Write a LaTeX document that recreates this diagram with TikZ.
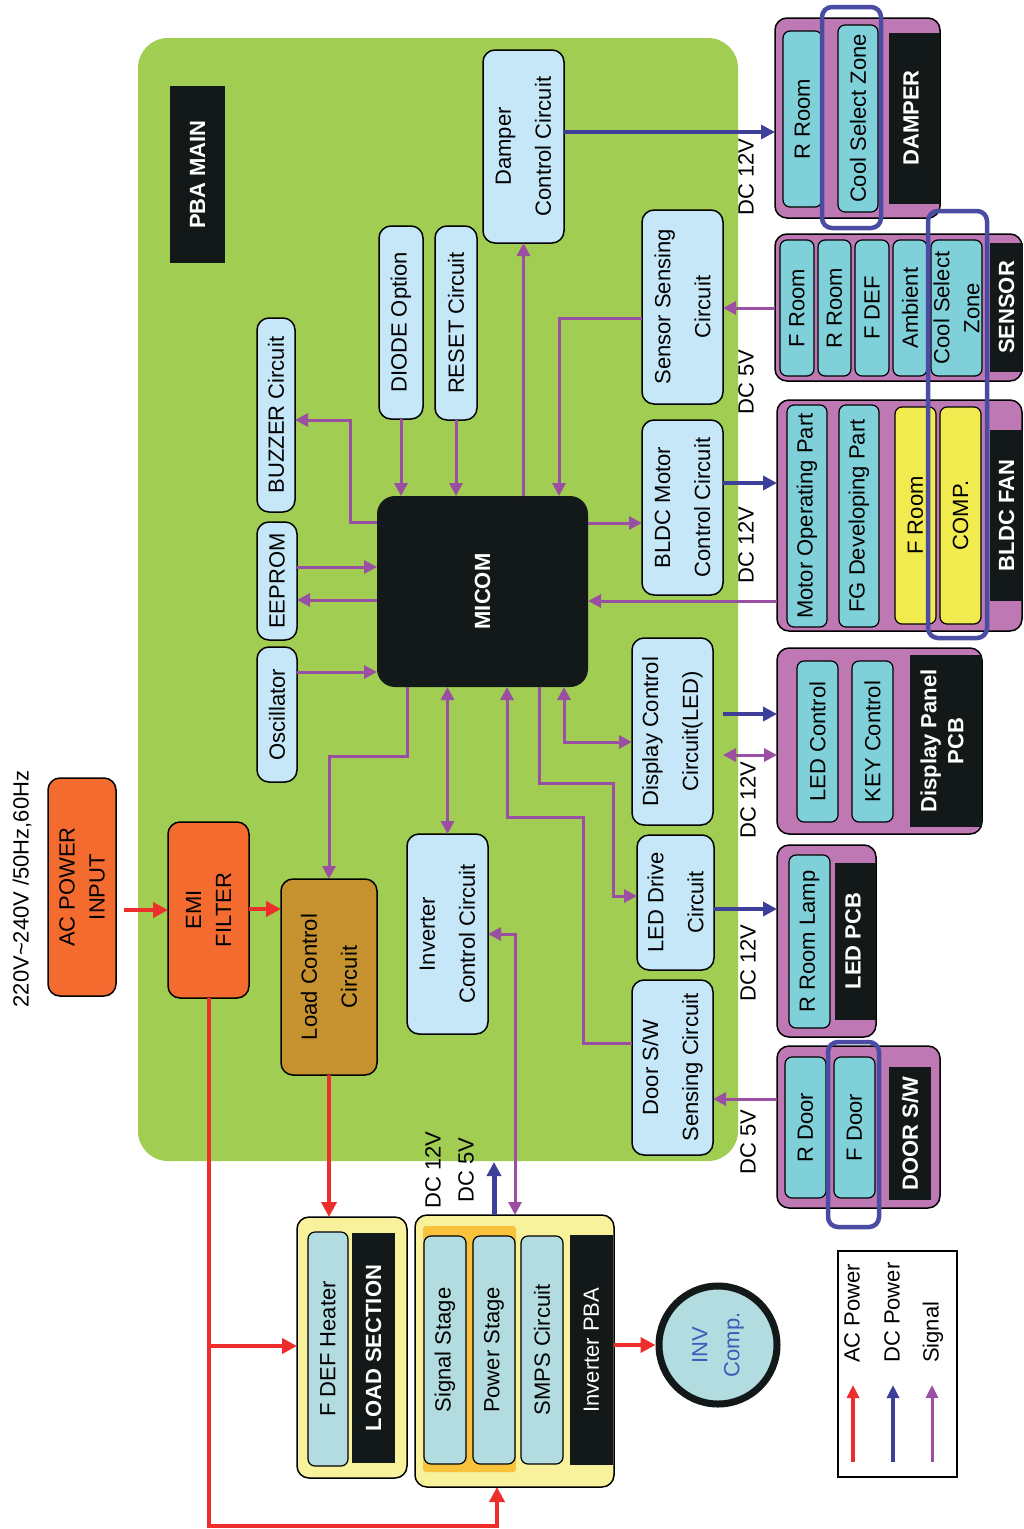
\documentclass[tikz,border=0pt]{standalone}
\usepackage{fontspec}
\setmainfont{Liberation Sans}
\usetikzlibrary{arrows.meta,calc}
\definecolor{board}{HTML}{A0CD52}
\definecolor{lblue}{HTML}{C5E7F8}
\definecolor{dark}{HTML}{131819}
\definecolor{orng}{HTML}{F46B30}
\definecolor{brwn}{HTML}{C5922F}
\definecolor{modp}{HTML}{BE78B4}
\definecolor{cteal}{HTML}{80D0DA}
\definecolor{fyel}{HTML}{F2EB4F}
\definecolor{lyel}{HTML}{F7F29B}
\definecolor{invb}{HTML}{B2DCDF}
\definecolor{band}{HTML}{F8C23A}
\definecolor{hil}{HTML}{4A4BA3}
\definecolor{sigc}{HTML}{9B4FA3}
\definecolor{dcc}{HTML}{3E3F98}
\definecolor{acc}{HTML}{EE2D2D}
\definecolor{invtxt}{HTML}{3A5DB8}
\newcommand\mybox[6]{\node[#6, minimum width={(#4-#2)*1pt}, minimum height={(#5-#3)*1pt}] (#1) at ({(#2+#4)/2},{(#3+#5)/2}) {};}
\newcommand\mytxt[3][]{\node[tx,#1] (#2-t) at (#2.center) {#3};}
\tikzset{
  tx/.style={rotate=90, align=center, inner sep=0pt, font=\fontsize{22}{40}\selectfont},
  wtx/.style={text=white, font=\fontsize{22}{27}\selectfont\bfseries},
  lb/.style={draw=black, line width=1.5pt, fill=lblue, rounded corners=12pt, inner sep=0pt, outer sep=0pt},
  ob/.style={lb, fill=orng},
  mod/.style={draw=black, line width=1.5pt, fill=modp, rounded corners=12pt, inner sep=0pt, outer sep=0pt},
  inb/.style={draw=black, line width=1.2pt, fill=cteal, rounded corners=7pt, inner sep=0pt, outer sep=0pt},
  yb/.style={inb, fill=fyel},
  ivb/.style={inb, fill=invb},
  dk/.style={fill=dark, inner sep=0pt, outer sep=0pt},
  hl/.style={draw=hil, line width=4.5pt, rounded corners=10pt, inner sep=0pt},
  sig/.style={draw=sigc, line width=3pt, -{Triangle[length=13pt,width=13pt]}},
  sigd/.style={draw=sigc, line width=3pt, {Triangle[length=13pt,width=13pt]}-{Triangle[length=13pt,width=13pt]}},
  dcl/.style={draw=dcc, line width=3.5pt, -{Triangle[length=14pt,width=14pt]}},
  acl/.style={draw=acc, line width=4pt, -{Triangle[length=15pt,width=15pt]}},
}
\begin{document}
\begin{tikzpicture}[x=1pt,y=-1pt]
\useasboundingbox (0,0) rectangle (1023,1529);
\fill[white] (0,0) rectangle (1023,1529);
% board
\mybox{board}{138}{38}{738}{1161}{fill=board, rounded corners=30pt, inner sep=0pt}
\mybox{pbalbl}{170}{86}{225}{263}{dk}
\mytxt[wtx]{pbalbl}{PBA MAIN}
% inside boxes
\mybox{damperc}{483}{50}{564}{243}{lb}\mytxt{damperc}{Damper\\Control Circuit}
\mybox{diode}{379}{226}{423}{419}{lb}\mytxt{diode}{DIODE Option}
\mybox{reset}{435}{226}{477}{420}{lb}\mytxt{reset}{RESET Circuit}
\mybox{buzzer}{257}{318}{295}{512}{lb}\mytxt{buzzer}{BUZZER Circuit}
\mybox{eeprom}{257}{522}{297}{640}{lb}\mytxt{eeprom}{EEPROM}
\mybox{osc}{257}{647}{297}{782}{lb}\mytxt{osc}{Oscillator}
\mybox{micom}{377}{496}{588}{687}{dk, rounded corners=18pt}\mytxt[wtx]{micom}{MICOM}
\mybox{sensc}{642}{210}{723}{404}{lb}\mytxt{sensc}{Sensor Sensing\\Circuit}
\mybox{bldcc}{642}{420}{723}{595}{lb}\mytxt{bldcc}{BLDC Motor\\Control Circuit}
\mybox{dispc}{632}{638}{713}{825}{lb}\mytxt{dispc}{Display Control\\Circuit(LED)}
\mybox{ledc}{637}{835}{714}{970}{lb}\mytxt{ledc}{LED Drive\\Circuit}
\mybox{doorc}{632}{980}{713}{1155}{lb}\mytxt{doorc}{Door S/W\\Sensing Circuit}
\mybox{loadc}{281}{879}{377}{1075}{lb, fill=brwn}\mytxt{loadc}{Load Control\\Circuit}
\mybox{invc}{407}{834}{488}{1034}{lb}\mytxt{invc}{Inverter\\Control Circuit}
% power input
\mybox{acin}{48}{778}{116}{996}{ob}\mytxt[font=\fontsize{22}{30}\selectfont]{acin}{AC POWER\\INPUT}
\mybox{emi}{168}{822}{249}{998}{ob}\mytxt[font=\fontsize{22}{30}\selectfont]{emi}{EMI\\FILTER}
\node[tx, font=\fontsize{22}{26}\selectfont] (volt) at (22,889) {220V\textasciitilde 240V /50Hz,60Hz};
% DAMPER
\mybox{damper}{775}{18}{940}{218}{mod}
\mybox{droom}{783}{31}{822}{207}{inb}\mytxt{droom}{R Room}
\mybox{dcool}{838}{25}{878}{212}{inb}\mytxt{dcool}{Cool Select Zone}
\mybox{dlbl}{889}{33}{940}{204}{dk}\node[tx,wtx] (dlbl-t) at (911,118) {DAMPER};
% SENSOR
\mybox{sensor}{775}{234}{1022}{381}{mod}
\mybox{s1}{780}{240}{814}{376}{inb}\mytxt{s1}{F Room}
\mybox{s2}{818}{240}{851}{376}{inb}\mytxt{s2}{R Room}
\mybox{s3}{855}{240}{889}{376}{inb}\mytxt{s3}{F DEF}
\mybox{s4}{893}{240}{927}{376}{inb}\mytxt{s4}{Ambient}
\mybox{s5}{931}{240}{982}{376}{inb}\mytxt[font=\fontsize{22}{30}\selectfont]{s5}{Cool Select\\Zone}
\mybox{slbl}{990}{243}{1023}{372}{dk}\mytxt[wtx]{slbl}{SENSOR}
% BLDC FAN
\mybox{fan}{777}{400}{1022}{631}{mod}
\mybox{f1}{787}{405}{827}{627}{inb}\mytxt{f1}{Motor Operating Part}
\mybox{f2}{839}{405}{879}{627}{inb}\mytxt{f2}{FG Developing Part}
\mybox{f3}{895}{407}{936}{624}{yb}\mytxt{f3}{F Room}
\mybox{f4}{940}{407}{981}{624}{yb}\mytxt{f4}{COMP.}
\mybox{flbl}{990}{430}{1023}{601}{dk}\mytxt[wtx]{flbl}{BLDC FAN}
% Display panel
\mybox{disp}{777}{648}{982}{834}{mod}
\mybox{dp1}{797}{661}{838}{822}{inb}\mytxt{dp1}{LED Control}
\mybox{dp2}{852}{661}{893}{822}{inb}\mytxt{dp2}{KEY Control}
\mybox{dplbl}{910}{655}{982}{827}{dk}\node[tx,wtx] (dplbl-t) at (942,741) {Display Panel\\PCB};
% LED PCB
\mybox{ledpcb}{777}{845}{876}{1037}{mod}
\mybox{lp1}{789}{855}{830}{1028}{inb}\mytxt{lp1}{R Room Lamp}
\mybox{lplbl}{835}{863}{876}{1020}{dk}\node[tx,wtx] (lplbl-t) at (853,941) {LED PCB};
% DOOR S/W
\mybox{doorsw}{777}{1046}{940}{1208}{mod}
\mybox{rdoor}{785}{1057}{826}{1198}{inb}\mytxt{rdoor}{R Door}
\mybox{fdoor}{834}{1057}{875}{1198}{inb}\mytxt{fdoor}{F Door}
\mybox{dslbl}{889}{1067}{931}{1200}{dk}\mytxt[wtx]{dslbl}{DOOR S/W}
% highlights
\mybox{hl1}{822}{7}{881}{228}{hl}
\mybox{hl2}{928}{211}{987}{638}{hl}
\mybox{hl3}{828}{1042}{879}{1227}{hl}
% LOAD SECTION
\mybox{loadsec}{297}{1217}{407}{1478}{mod, fill=lyel}
\mybox{heater}{308}{1232}{348}{1466}{ivb}\mytxt{heater}{F DEF Heater}
\mybox{lslbl}{352}{1233}{395}{1463}{dk}\mytxt[wtx]{lslbl}{LOAD SECTION}
% Inverter PBA
\mybox{invpba}{415}{1215}{614}{1487}{mod, fill=lyel}
\mybox{bandr}{423}{1226}{516}{1472}{fill=band, rounded corners=3pt}
\mybox{sigst}{424}{1236}{466}{1464}{ivb}\mytxt{sigst}{Signal Stage}
\mybox{powst}{473}{1236}{515}{1464}{ivb}\mytxt{powst}{Power Stage}
\mybox{smps}{521}{1236}{563}{1464}{ivb}\mytxt{smps}{SMPS Circuit}
\mybox{iplbl}{570}{1235}{613}{1465}{dk}\mytxt[text=white, font=\fontsize{22}{27}\selectfont]{iplbl}{Inverter PBA}
% INV comp
\node[circle, draw=dark, line width=7pt, fill=invb, minimum size=118pt, inner sep=0pt] (invcomp) at (718,1345) {};
\node[tx, text=invtxt, font=\fontsize{22}{32}\selectfont] (invcomp-t) at (invcomp.center) {INV\\Comp.};
% DC labels
\node[tx] (dc1) at (746,177) {DC 12V};
\node[tx] (dc2) at (746,382) {DC 5V};
\node[tx] (dc3) at (746,545) {DC 12V};
\node[tx] (dc4) at (748,800) {DC 12V};
\node[tx] (dc5) at (748,963) {DC 12V};
\node[tx] (dc6) at (748,1142) {DC 5V};
\node[tx] (dc7) at (433,1170) {DC 12V};
\node[tx] (dc8) at (466,1170) {DC 5V};
% signal connectors
\draw[sig] (micom.west |- 0,522) -- (350,522) |- (buzzer.east |- 0,420);
\draw[sig] (diode.south) -- (diode.south |- micom.north);
\draw[sig] (reset.south) -- (reset.south |- micom.north);
\draw[sig] (micom.north -| damperc.south) -- (damperc.south);
\draw[sig] (sensc.west |- 0,318) -| (micom.north -| 559,0);
\draw[sig] (micom.east |- 0,523) -- (bldcc.west |- 0,523);
\draw[sig] (fan.west |- 0,601) -- (micom.east |- 0,601);
\draw[sig] (eeprom.east |- 0,567) -- (micom.west |- 0,567);
\draw[sig] (micom.west |- 0,600) -- (eeprom.east |- 0,600);
\draw[sig] (osc.east |- 0,672) -- (micom.west |- 0,672);
\draw[sig] (micom.south -| 407,0) -- (407,756) -| (loadc.north);
\draw[sigd] (micom.south -| invc.north) -- (invc.north);
\draw[sig] (doorc.west |- 0,1043) -| (583,817) -| (micom.south -| 507,0);
\draw[sig] (micom.south -| 539,0) |- (613,783) |- (ledc.west |- 0,896);
\draw[sigd] (micom.south -| 564,0) |- (dispc.west |- 0,742);
\draw[sigd] (invpba.north -| 515,0) |- (invc.east |- 0,934);
\draw[sig] (sensor.west |- 0,308) -- (sensc.east |- 0,308);
\draw[sigd] ([xshift=10pt]dispc.east |- 0,755) -- (disp.west |- 0,755);
\draw[sig] (doorsw.west |- 0,1099) -- (doorc.east |- 0,1099);
% DC connectors
\draw[dcl] (damperc.east |- 0,132) -- (damper.west |- 0,132);
\draw[dcl, line width=4.5pt] (bldcc.east |- 0,483) -- (fan.west |- 0,483);
\draw[dcl] ([xshift=10pt]dispc.east |- 0,714) -- (disp.west |- 0,714);
\draw[dcl] (ledc.east |- 0,909) -- (ledpcb.west |- 0,909);
\coordinate (dcout) at (494,1162);
\draw[dcl, line width=5pt] (invpba.north -| dcout) -- (dcout);
% AC connectors
\draw[acl] ([xshift=8pt]acin.east |- 0,910) -- (emi.west |- 0,910);
\draw[acl] (emi.east |- 0,909) -- (loadc.west |- 0,909);
\draw[acl] (loadc.south) -- (loadsec.north -| loadc.south);
\draw[acl] (emi.south -| 209,0) -- (209,1526) -| (invpba.south -| 497,0);
\coordinate (br) at (209,1346);
\draw[acl] (br) -- (loadsec.west |- br);
\draw[acl] (invpba.east |- 0,1345) -- (invcomp.west);
% legend
\mybox{legend}{838}{1251}{957}{1477}{draw=black, line width=2.5pt}
\coordinate (la1) at (853,1462); \coordinate (la2) at (853,1385);
\coordinate (lb1) at (893,1462); \coordinate (lb2) at (893,1385);
\coordinate (lc1) at (932,1462); \coordinate (lc2) at (932,1385);
\draw[acl, line width=3.5pt, -{Triangle[length=13pt,width=12pt]}] (la1) -- (la2);
\draw[dcl, -{Triangle[length=13pt,width=12pt]}] (lb1) -- (lb2);
\draw[sig, -{Triangle[length=13pt,width=12pt]}] (lc1) -- (lc2);
\node[tx, anchor=west] (lt1) at (852,1363) {AC Power};
\node[tx, anchor=west] (lt2) at (892,1363) {DC Power};
\node[tx, anchor=west] (lt3) at (933,1363) {Signal};
\end{tikzpicture}
\end{document}
